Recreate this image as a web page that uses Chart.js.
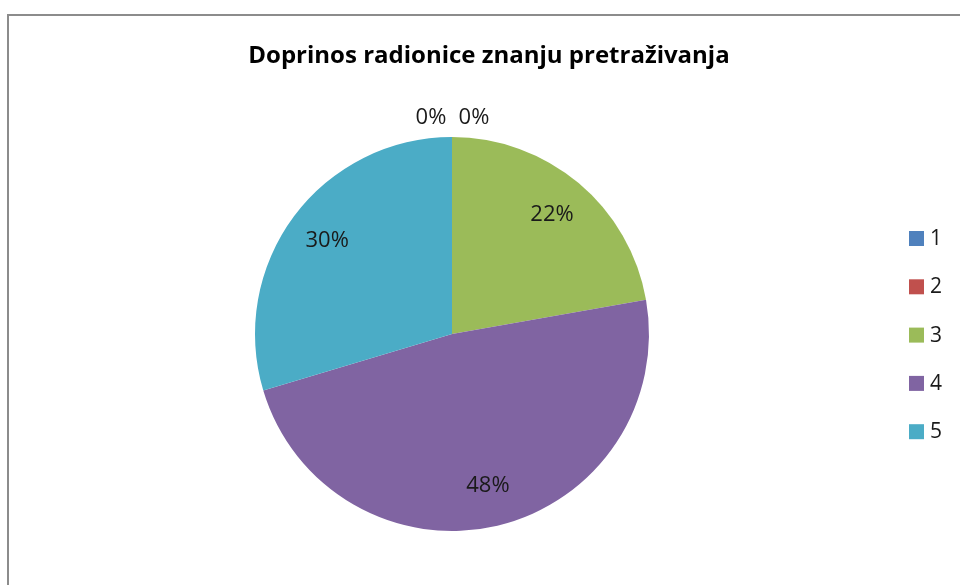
<!DOCTYPE html>
<html lang="hr">
<head>
    <meta charset="UTF-8">
    <title>Doprinos radionice znanju pretraživanja</title>
    <style>
        body {
            margin: 0;
            padding: 0;
            background-color: #fff;
            width: 960px;
            height: 585px;
            overflow: hidden;
            position: relative;
        }

        .frame {
            position: absolute;
            left: 7px;
            top: 14px;
            width: 980px;
            height: 600px;
            border: 2px solid #8c8c8c;
        }

        #pieChart {
            position: absolute;
            left: 0;
            top: 0;
        }
    </style>
    <script src="https://cdn.jsdelivr.net/npm/chart.js"></script>
</head>
<body>
    <div class="frame"></div>
    <canvas id="pieChart" width="960" height="585"></canvas>

    <script>
        const chartTitle = 'Doprinos radionice znanju pretraživanja';
        const categories = ['1', '2', '3', '4', '5'];
        const answerCounts = [0, 0, 6, 13, 8];
        const sliceColors = ['#4F81BD', '#C0504D', '#9BBB59', '#8064A2', '#4BACC6'];

        const fontFamily = '"Open Sans", "DejaVu Sans", sans-serif';

        // draws the title, the percentage labels and the legend on the right
        const excelLook = {
            id: 'excelLook',
            afterDraw(chart) {
                const ctx = chart.ctx;
                const meta = chart.getDatasetMeta(0);
                const total = answerCounts.reduce((a, b) => a + b, 0);

                ctx.save();
                ctx.fillStyle = '#000';
                ctx.textAlign = 'center';
                ctx.textBaseline = 'middle';

                ctx.font = 'bold 24px ' + fontFamily;
                ctx.fillText(chartTitle, 489, 56);

                ctx.font = '22px ' + fontFamily;
                ctx.fillStyle = '#1a1a1a';
                let zeroIndex = 0;
                meta.data.forEach((arc, i) => {
                    const pct = Math.round(answerCounts[i] / total * 100) + '%';
                    const mid = (arc.startAngle + arc.endAngle) / 2;
                    if (answerCounts[i] === 0) {
                        // empty slices sit above the top of the pie, side by side
                        const side = zeroIndex === 0 ? -21 : 22;
                        zeroIndex++;
                        ctx.fillText(pct, arc.x + side, arc.y - arc.outerRadius - 19);
                    } else {
                        const r = arc.outerRadius * 0.79;
                        ctx.fillText(pct, arc.x + Math.cos(mid) * r, arc.y + Math.sin(mid) * r);
                    }
                });

                // legend
                ctx.textAlign = 'left';
                ctx.font = '21px ' + fontFamily;
                categories.forEach((cat, i) => {
                    const y = 238 + i * 48.3;
                    ctx.fillStyle = sliceColors[i];
                    ctx.fillRect(909, y - 7, 15, 15);
                    ctx.fillStyle = '#1a1a1a';
                    ctx.fillText(cat, 930, y + 1);
                });
                ctx.restore();
            }
        };

        new Chart(document.getElementById('pieChart'), {
            type: 'pie',
            data: {
                labels: categories,
                datasets: [{
                    data: answerCounts,
                    backgroundColor: sliceColors,
                    borderWidth: 0
                }]
            },
            options: {
                responsive: false,
                animation: false,
                layout: {
                    padding: { left: 255, right: 311, top: 137, bottom: 54 }
                },
                plugins: {
                    legend: { display: false },
                    title: { display: false },
                    tooltip: { enabled: false }
                }
            },
            plugins: [excelLook]
        });
    </script>
</body>
</html>
